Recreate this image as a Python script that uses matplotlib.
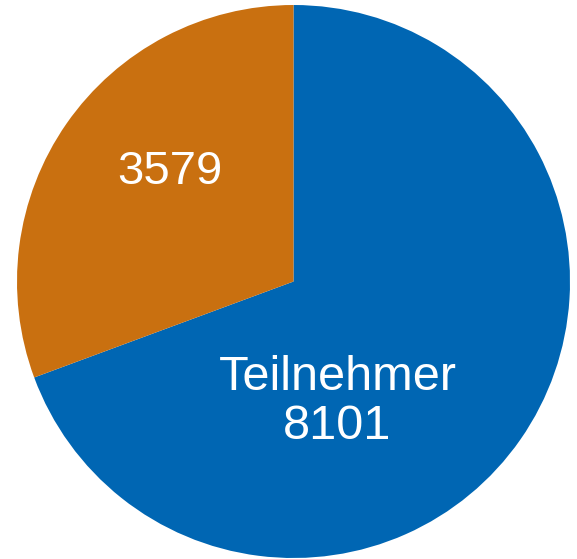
import matplotlib.pyplot as plt

# Teilnehmer vs. Rest
labels = ["Teilnehmer", ""]
werte = [8101, 3579]
farben = ["#0066B3", "#C97010"]

plt.rcParams['font.family'] = ['Liberation Sans', 'DejaVu Sans']

fig = plt.figure(figsize=(5.77, 5.59), dpi=100)
ax = fig.add_axes([0, 0, 1, 1])

ax.pie(werte, colors=farben, startangle=90, counterclock=False,
       radius=1, wedgeprops=dict(linewidth=0))

ax.set_xlim(-1.0615, 1.0253)
ax.set_ylim(-1.0036, 1.0181)
ax.set_aspect('auto')
ax.axis('off')

ax.text(0.159, -0.436, labels[0] + "\n" + str(werte[0]), color="white",
        fontsize=35, ha="center", va="center", linespacing=1.1)
ax.text(-0.446, 0.397, str(werte[1]), color="white",
        fontsize=34, ha="center", va="center")

plt.savefig("out.png", dpi=100)
